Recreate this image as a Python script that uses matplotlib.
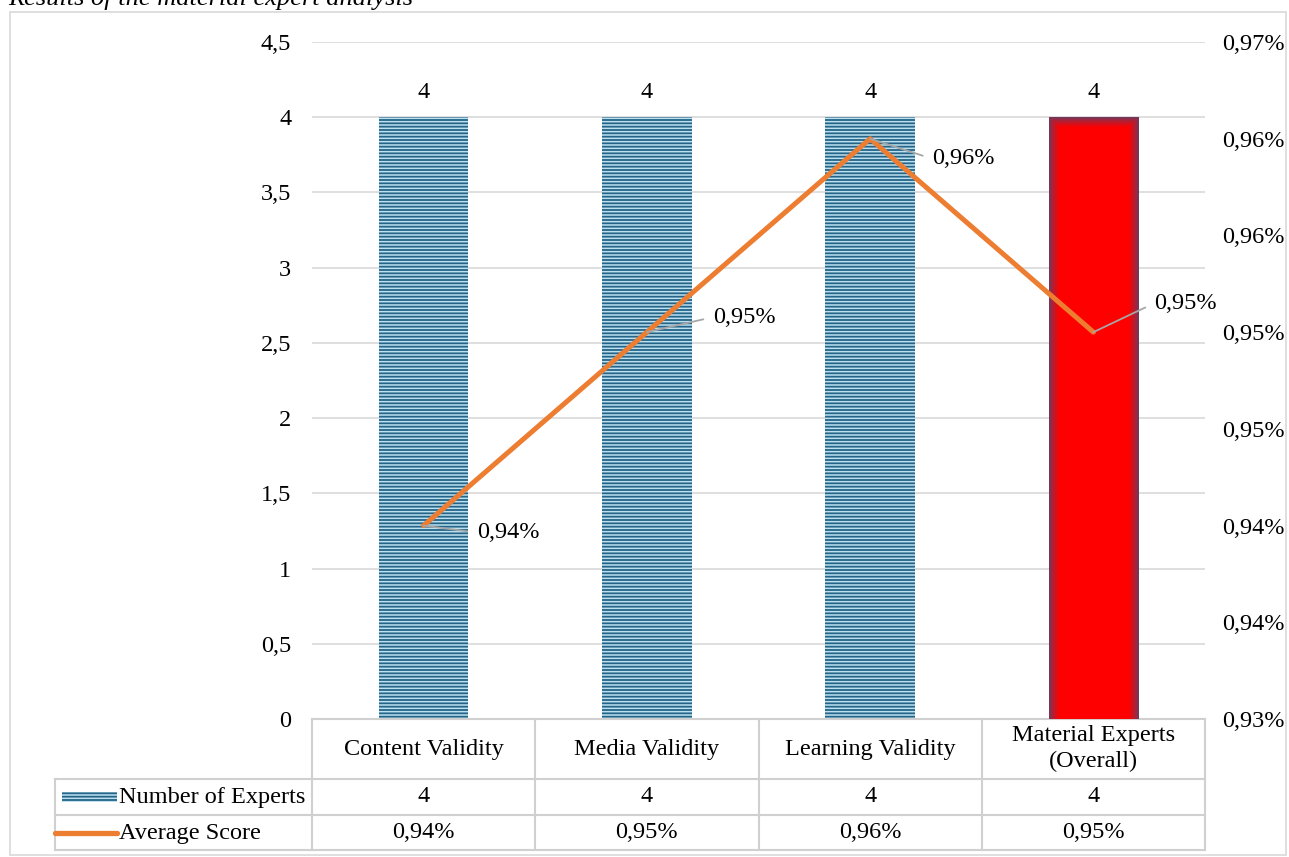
"""Combo chart: expert counts (bars) and average score (line) with data table."""

from decimal import Decimal, ROUND_HALF_UP

import numpy as np
import matplotlib
matplotlib.use("Agg")
from matplotlib import pyplot as plt
from matplotlib.patches import Rectangle
from matplotlib.lines import Line2D

categories = ["Content Validity", "Media Validity", "Learning Validity",
              "Material Experts\n(Overall)"]
n_experts = [4, 4, 4, 4]
avg_score = [0.94, 0.95, 0.96, 0.95]
left_ticks = [0, 0.5, 1, 1.5, 2, 2.5, 3, 3.5, 4, 4.5]
right_ticks = [0.93, 0.935, 0.94, 0.945, 0.95, 0.955, 0.96, 0.965]

W, H = 1289, 857
BLUE = "#246488"
STRIPE = "#bde0f0"
ORANGE = "#ED7D31"
GRID = "#d9d9d9"
TBL = "#d0d0d0"
FS = 17.5

plt.rcParams["font.family"] = ["Liberation Serif", "DejaVu Serif"]
plt.rcParams["hatch.linewidth"] = 1.1


def comma(v, nd=None):
    if nd is None:
        s = f"{v:g}"
    else:
        q = Decimal(str(round(v, 6))).quantize(Decimal(10) ** -nd, rounding=ROUND_HALF_UP)
        s = str(q)
    return s.replace(".", ",")


fig = plt.figure(figsize=(W / 100, H / 100), dpi=100)
fig.patches.append(Rectangle((10 / W, 2 / H), 1276 / W, 843 / H, transform=fig.transFigure,
                             fill=False, edgecolor="#d9d9d9", lw=1.2))
fig.text(8 / W, 1 - 5 / H, "Results of the material expert analysis", style="italic",
         fontsize=19, va="baseline", ha="left")

x0, y_top, y_bot, x1 = 312, 42, 719, 1205
ax = fig.add_axes([x0 / W, (H - y_bot) / H, (x1 - x0) / W, (y_bot - y_top) / H])
x = np.arange(len(categories))

bars = ax.bar(x[:3], n_experts[:3], width=0.4, color=BLUE, edgecolor=STRIPE, lw=0,
              hatch="-----", zorder=2)
red = ax.bar(x[3], n_experts[3], width=0.4, color="#ff0000", lw=0, zorder=2)[0]

# soft darker rim on the highlighted bar
bw_px, bh_px = 90, 603
yy, xx = np.mgrid[0:bh_px, 0:bw_px]
d = np.minimum(np.minimum(xx, bw_px - 1 - xx), yy)
t = np.clip(d / 10.0, 0, 1)[..., None] ** 0.8
rim = np.array([0.45, 0.22, 0.36])
core = np.array([1.0, 0.0, 0.0])
img = rim * (1 - t) + core * t
bx = red.get_x()
im = ax.imshow(img, extent=(bx, bx + red.get_width(), 0, n_experts[3]), aspect="auto",
               origin="upper", zorder=2.1)
im.set_clip_path(red)

for xi, v in zip(x, n_experts):
    ax.annotate(comma(v), (xi, v), xytext=(0, 25), textcoords="offset pixels",
                ha="center", va="center", fontsize=FS)

ax.set_xlim(-0.5, len(categories) - 0.5)
ax.set_ylim(0, 4.5)
ax.set_yticks(left_ticks)
ax.set_yticklabels([comma(v) for v in left_ticks], fontsize=FS)
ax.yaxis.grid(True, color=GRID, lw=1.2, zorder=0)
ax.set_axisbelow(True)
ax.tick_params(axis="y", length=0, pad=15)
ax.set_xticks([])
for s in ax.spines.values():
    s.set_visible(False)

ax2 = ax.twinx()
ax2.plot(x, avg_score, color=ORANGE, lw=3.6, solid_capstyle="round", zorder=3)
ax2.set_ylim(0.93, 0.965)
ax2.set_yticks(right_ticks)
ax2.set_yticklabels([comma(v, 2) + "%" for v in right_ticks], fontsize=FS)
ax2.tick_params(axis="y", length=0, pad=12)
for s in ax2.spines.values():
    s.set_visible(False)

label_offsets = [(53, -7), (66, 15), (62, -20), (61, 29)]
for xi, v, off in zip(x, avg_score, label_offsets):
    ax2.annotate(comma(v, 2) + "%", (xi, v), xytext=off, textcoords="offset pixels",
                 ha="left", va="center", fontsize=FS,
                 arrowprops=dict(arrowstyle="-", color="#a6a6a6", lw=1.3,
                                 shrinkA=5, shrinkB=0, relpos=(0, 0.5)))

# data table under the plot
px = (x1 - x0) / len(categories)


def ax_y(ypx):
    return (y_bot - ypx) / (y_bot - y_top)


def col_x(xpx):
    return -0.5 + (xpx - x0) / px


tr = matplotlib.transforms.blended_transform_factory(ax.transData, ax.transAxes)
rows = [719, 779, 815, 850]
left_edge = col_x(55)
kw = dict(transform=tr, color=TBL, lw=1.5, clip_on=False)
ax.add_line(Line2D([-0.5, 3.5], [ax_y(rows[0])] * 2, **kw))
for r in rows[1:]:
    ax.add_line(Line2D([left_edge, 3.5], [ax_y(r)] * 2, **kw))
for c in range(len(categories) + 1):
    ax.add_line(Line2D([c - 0.5] * 2, [ax_y(rows[0]), ax_y(rows[3])], **kw))
ax.add_line(Line2D([left_edge] * 2, [ax_y(rows[1]), ax_y(rows[3])], **kw))

for xi, cat, n, sc in zip(x, categories, n_experts, avg_score):
    ax.text(xi, ax_y((rows[0] + rows[1]) / 2), cat, transform=tr, ha="center",
            va="center", fontsize=FS, linespacing=1.3)
    ax.text(xi, ax_y((rows[1] + rows[2]) / 2), comma(n), transform=tr, ha="center",
            va="center", fontsize=FS)
    ax.text(xi, ax_y((rows[2] + rows[3]) / 2), comma(sc, 2) + "%", transform=tr,
            ha="center", va="center", fontsize=FS)

# legend keys inside the table
key = Rectangle((col_x(62), ax_y(802)), col_x(117) - col_x(62), ax_y(792) - ax_y(802),
                transform=tr, facecolor=BLUE, edgecolor=STRIPE, lw=0, hatch="-----",
                clip_on=False)
ax.add_patch(key)
ax.add_line(Line2D([col_x(55), col_x(117)], [ax_y(833)] * 2, transform=tr, color=ORANGE,
                   lw=3.8, solid_capstyle="round", clip_on=False))
ax.text(col_x(119), ax_y(797), "Number of Experts", transform=tr, ha="left", va="center",
        fontsize=FS)
ax.text(col_x(119), ax_y(833), "Average Score", transform=tr, ha="left", va="center",
        fontsize=FS)

fig.savefig("out.png", dpi=100)
